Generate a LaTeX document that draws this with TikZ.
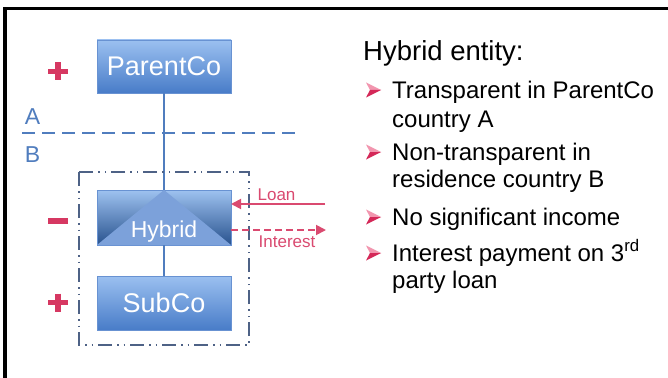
\documentclass[tikz,border=0pt]{standalone}
\usepackage{fontspec}
\setmainfont{Liberation Sans}
\usetikzlibrary{arrows.meta}

\definecolor{boxtop}{RGB}{155,192,240}
\definecolor{boxbot}{RGB}{72,124,200}
\definecolor{boxline}{RGB}{104,146,210}
\definecolor{hybtop}{RGB}{158,194,240}
\definecolor{hybbot}{RGB}{40,82,142}
\definecolor{hybtri}{RGB}{124,161,218}
\definecolor{linkblue}{RGB}{80,125,190}
\definecolor{zoneline}{RGB}{78,98,134}
\definecolor{signred}{RGB}{214,56,98}
\definecolor{flowred}{RGB}{218,74,112}
\definecolor{bulletlight}{RGB}{242,150,175}
\definecolor{bulletdark}{RGB}{212,40,88}

\tikzset{
  entity/.style={draw=boxline, line width=0.8pt, top color=boxtop, bottom color=boxbot,
    minimum width=134pt, minimum height=53pt, inner sep=0pt, outer sep=0pt,
    text=white, font=\fontsize{27}{32}\selectfont},
  link/.style={draw=linkblue, line width=1.8pt},
  border/.style={draw=linkblue, line width=2pt, dash pattern=on 13pt off 7pt},
  zone/.style={draw=zoneline, line width=2pt,
    dash pattern=on 14pt off 5pt on 1.5pt off 5pt on 1.5pt off 5pt},
  sign/.style={draw=signred, line width=5.5pt},
  country/.style={text=linkblue, font=\fontsize{23}{27}\selectfont, inner sep=0pt},
  flow/.style={draw=flowred, line width=1.8pt, -{Triangle[length=10pt,width=10pt]}},
  flowlabel/.style={text=flowred, font=\fontsize{17}{20}\selectfont, inner sep=0pt},
  title/.style={anchor=base west, inner sep=0pt, font=\fontsize{27.5}{32}\selectfont},
  item/.style={anchor=base west, inner sep=0pt, font=\fontsize{24}{28}\selectfont},
  pointer/.pic={
    \fill[bulletlight] (0,-7.5) -- (15,0) -- (4,0) -- cycle;
    \fill[bulletdark] (4,0) -- (15,0) -- (0,7.5) -- cycle;
  }
}

\begin{document}
\begin{tikzpicture}[x=1pt,y=-1pt]
\useasboundingbox (0,0) rectangle (668,377);
\fill[white] (0,0) rectangle (668,377);

% outer frame (top and left edges)
\draw[black, line width=3.5pt] (5,400) -- (5,8.5) -- (700,8.5);

% entities
\node[entity] (parent) at (164,66.5) {ParentCo};
\node[entity, minimum height=55pt, top color=hybtop, bottom color=hybbot] (hyb) at (164,217.5) {};
\fill[hybtri] (hyb.north) -- (hyb.south west) -- (hyb.south east) -- cycle;
\node[text=white, font=\fontsize{23}{27}\selectfont, inner sep=0pt] (hybtxt) at (164,232) {Hybrid};
\node[entity, minimum height=54pt] (sub) at (164,303) {SubCo};

% ownership links
\draw[link] (parent.south) -- (hyb.north);
\draw[link] (hyb.south) -- (sub.north);

% country border
\coordinate (borderL) at (22,133);
\coordinate (borderR) at (302,133);
\draw[border] (borderL) -- (borderR);
\node[country] (ctyA) at (32.5,117) {A};
\node[country] (ctyB) at (32.5,155) {B};

% residence country B group
\coordinate (zoneNW) at (79,172);
\coordinate (zoneSE) at (249,345);
\draw[zone] (zoneNW) rectangle (zoneSE);

% tax signs
\draw[sign] (48,71.5) -- (68,71.5);
\draw[sign] (58,62.5) -- (58,80.5);
\draw[sign] (48,221) -- (68,221);
\draw[sign] (48,302.5) -- (68,302.5);
\draw[sign] (58,293.5) -- (58,311.5);

% loan and interest flows
\coordinate (loanEnd) at (325,204);
\coordinate (intEnd) at (326,230);
\draw[flow] (loanEnd) -- (loanEnd -| hyb.east);
\draw[flow, dash pattern=on 7pt off 4pt] (intEnd -| hyb.east) -- (intEnd);
\node[flowlabel] (loan) at (276.5,195) {Loan};
\node[flowlabel] (interest) at (287,242) {Interest};

% description
\node[title] (head) at (363,61) {Hybrid entity:};
\pic at (366,90) {pointer};
\node[item] (i1a) at (392,99) {Transparent in ParentCo};
\node[item] (i1b) at (392,127) {country A};
\pic at (366,152) {pointer};
\node[item] (i2a) at (392,160.5) {Non-transparent in};
\node[item] (i2b) at (392,187.5) {residence country B};
\pic at (366,217) {pointer};
\node[item] (i3a) at (392,225) {No significant income};
\pic at (366,253) {pointer};
\node[item] (i4a) at (392,261) {Interest payment on 3\textsuperscript{rd}};
\node[item] (i4b) at (392,288) {party loan};
\end{tikzpicture}
\end{document}
